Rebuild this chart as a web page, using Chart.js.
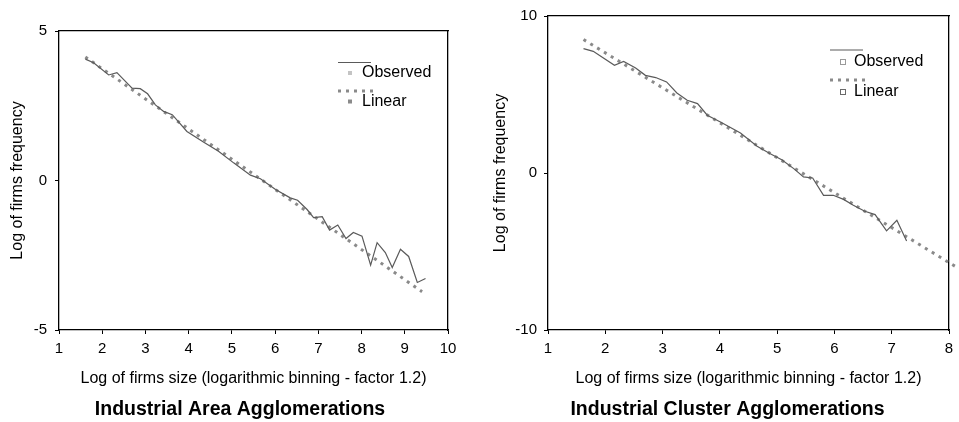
<!DOCTYPE html>
<html><head><meta charset="utf-8">
<script src="https://cdn.jsdelivr.net/npm/chart.js@4.4.1/dist/chart.umd.min.js"></script>
<style>
html,body{margin:0;padding:0;background:#fff;overflow:hidden;width:959px;height:422px;position:relative;}
.box{position:absolute;top:0;height:422px;}
#b1{left:0;width:480px;}
#b2{left:480px;width:495px;}
</style></head><body>
<div class="box" id="b1"><canvas id="c1"></canvas></div>
<div class="box" id="b2"><canvas id="c2"></canvas></div>
<script>
// ---- data ----
const seriesNames = ['Observed', 'Linear'];
const xAxisTitle = 'Log of firms size (logarithmic binning - factor 1.2)';
const yAxisTitle = 'Log of firms frequency';

const areaTitle = 'Industrial Area Agglomerations';
const areaObservedX = [1.61,1.80,2.15,2.34,2.69,2.88,3.05,3.23,3.42,3.62,3.96,4.35,4.69,5.04,5.43,5.66,6.01,6.35,6.52,6.74,6.89,7.09,7.26,7.45,7.64,7.81,8.01,8.21,8.36,8.55,8.71,8.90,9.09,9.29,9.48];
const areaObservedY = [4.06,3.94,3.53,3.61,3.09,3.07,2.90,2.53,2.31,2.20,1.64,1.28,0.98,0.59,0.18,0.06,-0.30,-0.58,-0.66,-0.97,-1.24,-1.21,-1.66,-1.49,-1.94,-1.74,-1.86,-2.83,-2.08,-2.41,-2.91,-2.30,-2.54,-3.41,-3.28];
const areaLinearX = [1.61, 9.40];
const areaLinearY = [4.13, -3.72];
const areaXTicks = [1,2,3,4,5,6,7,8,9,10];
const areaYTicks = [-5,0,5];

const clusterTitle = 'Industrial Cluster Agglomerations';
const clusterObservedX = [1.62,1.79,2.16,2.32,2.53,2.70,2.88,3.07,3.25,3.43,3.61,3.78,4.01,4.36,4.65,4.88,5.08,5.29,5.46,5.62,5.81,5.98,6.16,6.33,6.53,6.71,6.91,7.09,7.26];
const clusterObservedY = [7.92,7.75,6.86,7.11,6.69,6.22,6.08,5.80,5.10,4.63,4.42,3.68,3.25,2.55,1.70,1.23,0.85,0.28,-0.25,-0.32,-1.42,-1.42,-1.68,-2.06,-2.44,-2.65,-3.69,-3.01,-4.33];
const clusterLinearX = [1.62, 8.15];
const clusterLinearY = [8.50, -6.04];
const clusterXTicks = [1,2,3,4,5,6,7,8];
const clusterYTicks = [-10,0,10];

// ---- rendering ----
const FONT = "'Liberation Sans', Arial, Helvetica, sans-serif";
Chart.defaults.font.family = FONT;
Chart.defaults.color = '#000';

const pts = (xs, ys) => xs.map((x, i) => ({x, y: ys[i]}));

const fakeLegend = {
  id: 'fakeLegend',
  afterDraw(chart, args, o) {
    const ctx = chart.ctx;
    ctx.save();
    ctx.strokeStyle = '#5a5a5a'; ctx.lineWidth = 1.2;
    ctx.beginPath(); ctx.moveTo(o.x, o.y); ctx.lineTo(o.x + 33, o.y); ctx.stroke();
    ctx.strokeStyle = '#8a8a8a'; ctx.lineWidth = 3; ctx.setLineDash([3, 5]);
    ctx.beginPath(); ctx.moveTo(o.x, o.y + o.gap); ctx.lineTo(o.x + 35, o.y + o.gap); ctx.stroke();
    ctx.setLineDash([]);
    const mk = (cy, fill, stroke) => {
      if (o.hollow) { ctx.strokeStyle = stroke; ctx.lineWidth = 1; ctx.strokeRect(o.x + 10.5, cy - 2.5, 5, 5); }
      else { ctx.fillStyle = fill; ctx.fillRect(o.x + 10, cy - 2, 4, 4); }
    };
    mk(o.y + o.row, '#c4c4c4', '#9a9a9a');
    mk(o.y + o.gap + o.row, '#8a8a8a', '#6a6a6a');
    ctx.fillStyle = '#000'; ctx.font = '16px ' + FONT; ctx.textBaseline = 'middle'; ctx.textAlign = 'left';
    ctx.fillText(seriesNames[0], o.x + 24, o.y + o.row);
    ctx.fillText(seriesNames[1], o.x + 24, o.y + o.gap + o.row);
    ctx.restore();
  }
};

function makeChart(id, cfg) {
  const tickFont = {size: 15};
  return new Chart(document.getElementById(id), {
    type: 'scatter',
    data: {
      datasets: [
        {label: seriesNames[0], data: pts(cfg.ox, cfg.oy), showLine: true, borderColor: '#5a5a5a', borderWidth: 1.2, pointRadius: 0, tension: 0},
        {label: seriesNames[1], data: pts(cfg.lx, cfg.ly), showLine: true, borderColor: '#8a8a8a', borderWidth: 3, borderDash: [3, 5], pointRadius: 0, clip: cfg.clip}
      ]
    },
    options: {
      responsive: true, maintainAspectRatio: false, animation: false,
      layout: {padding: 0},
      plugins: {
        legend: {display: false}, tooltip: {enabled: false},
        title: {display: true, text: cfg.title, position: 'bottom', font: {size: 19.5, weight: 'bold'}, color: '#000', padding: {top: 5, bottom: 1}},
        fakeLegend: cfg.legend
      },
      scales: {
        x: {
          type: 'linear', position: 'bottom', min: cfg.xt[0], max: cfg.xt[cfg.xt.length - 1],
          afterBuildTicks: s => { s.ticks = cfg.xt.map(v => ({value: v})); },
          afterFit: s => { s.height = cfg.xh; },
          grid: {display: true, drawOnChartArea: false, drawTicks: true, tickLength: 4, color: '#000'},
          border: {display: true, color: '#000', width: 1.3},
          ticks: {font: tickFont, padding: 6, maxRotation: 0, autoSkip: false},
          title: {display: true, text: xAxisTitle, font: {size: 16}, padding: {top: 0, bottom: 4}}
        },
        y: {
          type: 'linear', position: 'left', min: cfg.yt[0], max: cfg.yt[cfg.yt.length - 1],
          afterBuildTicks: s => { s.ticks = cfg.yt.map(v => ({value: v})); },
          afterFit: s => { s.width = cfg.yw; },
          grid: {display: true, drawOnChartArea: false, drawTicks: true, tickLength: 4, color: '#000'},
          border: {display: true, color: '#000', width: 1.3},
          ticks: {font: tickFont, padding: cfg.ypad},
          title: {display: true, text: yAxisTitle, font: {size: 16}, padding: {top: cfg.ytp, bottom: 0}}
        },
        x2: {
          type: 'linear', position: 'top', min: 0, max: 1,
          afterFit: s => { s.height = cfg.top; },
          grid: {display: false, drawTicks: false}, ticks: {display: false},
          border: {display: true, color: '#000', width: 1.3}
        },
        y2: {
          type: 'linear', position: 'right', min: 0, max: 1,
          afterFit: s => { s.width = cfg.rw; },
          grid: {display: false, drawTicks: false}, ticks: {display: false},
          border: {display: true, color: '#000', width: 1.3}
        }
      }
    },
    plugins: [fakeLegend]
  });
}

makeChart('c1', {
  ox: areaObservedX, oy: areaObservedY, lx: areaLinearX, ly: areaLinearY,
  xt: areaXTicks, yt: areaYTicks, title: areaTitle, clip: undefined,
  xh: 62.6, yw: 59, top: 31, rw: 32, ypad: 8, ytp: 8,
  legend: {x: 338, y: 62.5, gap: 28.5, row: 10.5, hollow: false}
});
makeChart('c2', {
  ox: clusterObservedX, oy: clusterObservedY, lx: clusterLinearX, ly: clusterLinearY,
  xt: clusterXTicks, yt: clusterYTicks, title: clusterTitle, clip: false,
  xh: 62.6, yw: 68, top: 16, rw: 26, ypad: 7, ytp: 11,
  legend: {x: 350, y: 50, gap: 30, row: 12, hollow: true}
});
</script>
</body></html>
